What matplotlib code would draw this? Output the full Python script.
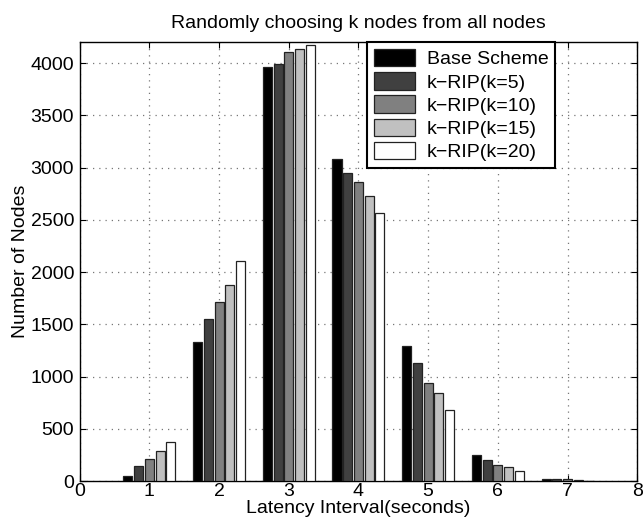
import numpy as np
import matplotlib.pyplot as plt

plt.rcParams['font.family'] = ['Liberation Sans', 'DejaVu Sans']

intervals = [1, 2, 3, 4, 5, 6, 7]
series_names = ['Base Scheme', 'k\u2212RIP(k=5)', 'k\u2212RIP(k=10)', 'k\u2212RIP(k=15)', 'k\u2212RIP(k=20)']
base = [54, 1330, 3962, 3080, 1293, 253, 25]
rip5 = [142, 1555, 3990, 2950, 1134, 207, 19]
rip10 = [212, 1710, 4102, 2860, 943, 156, 16]
rip15 = [291, 1872, 4130, 2730, 839, 131, 9]
rip20 = [370, 2105, 4169, 2570, 684, 95, 6]
colors = ['#000000', '#404040', '#808080', '#c0c0c0', '#ffffff']

fig = plt.figure(figsize=(6.43, 5.27), dpi=100)
ax = fig.add_axes([0.124, 0.087, 0.867, 0.833])

x = np.array(intervals)
step = 0.154
for i, vals in enumerate([base, rip5, rip10, rip15, rip20]):
    ax.bar(x + (i - 2) * step, vals, width=0.13, color=colors[i],
           edgecolor='#222222', linewidth=0.9, label=series_names[i], zorder=3)

ax.set_xlim(0, 8)
ax.set_ylim(0, 4200)
ax.set_xticks(range(0, 9))
ax.set_yticks(range(0, 4001, 500))
ax.grid(True, linestyle=(0, (1, 4)), color='#777777', linewidth=0.9, zorder=0)
ax.tick_params(direction='in', top=True, right=True, labelsize=14, length=4)
ax.tick_params(axis='x', pad=1)
ax.tick_params(axis='y', pad=4)
for s in ax.spines.values():
    s.set_linewidth(1.0)

ax.set_xlabel('Latency Interval(seconds)', fontsize=14, labelpad=0)
ax.set_ylabel('Number of Nodes', fontsize=14, labelpad=1)
ax.set_title('Randomly choosing k nodes from all nodes', fontsize=14, pad=10)

leg = ax.legend(loc='upper right', bbox_to_anchor=(0.853, 1.0), borderaxespad=0,
                fontsize=14, fancybox=False, framealpha=1, edgecolor='black',
                handlelength=2.1, handleheight=1.0, labelspacing=0.2,
                handletextpad=0.6, borderpad=0.35)
leg.get_frame().set_linewidth(1.5)

fig.savefig('out.png', dpi=100)
